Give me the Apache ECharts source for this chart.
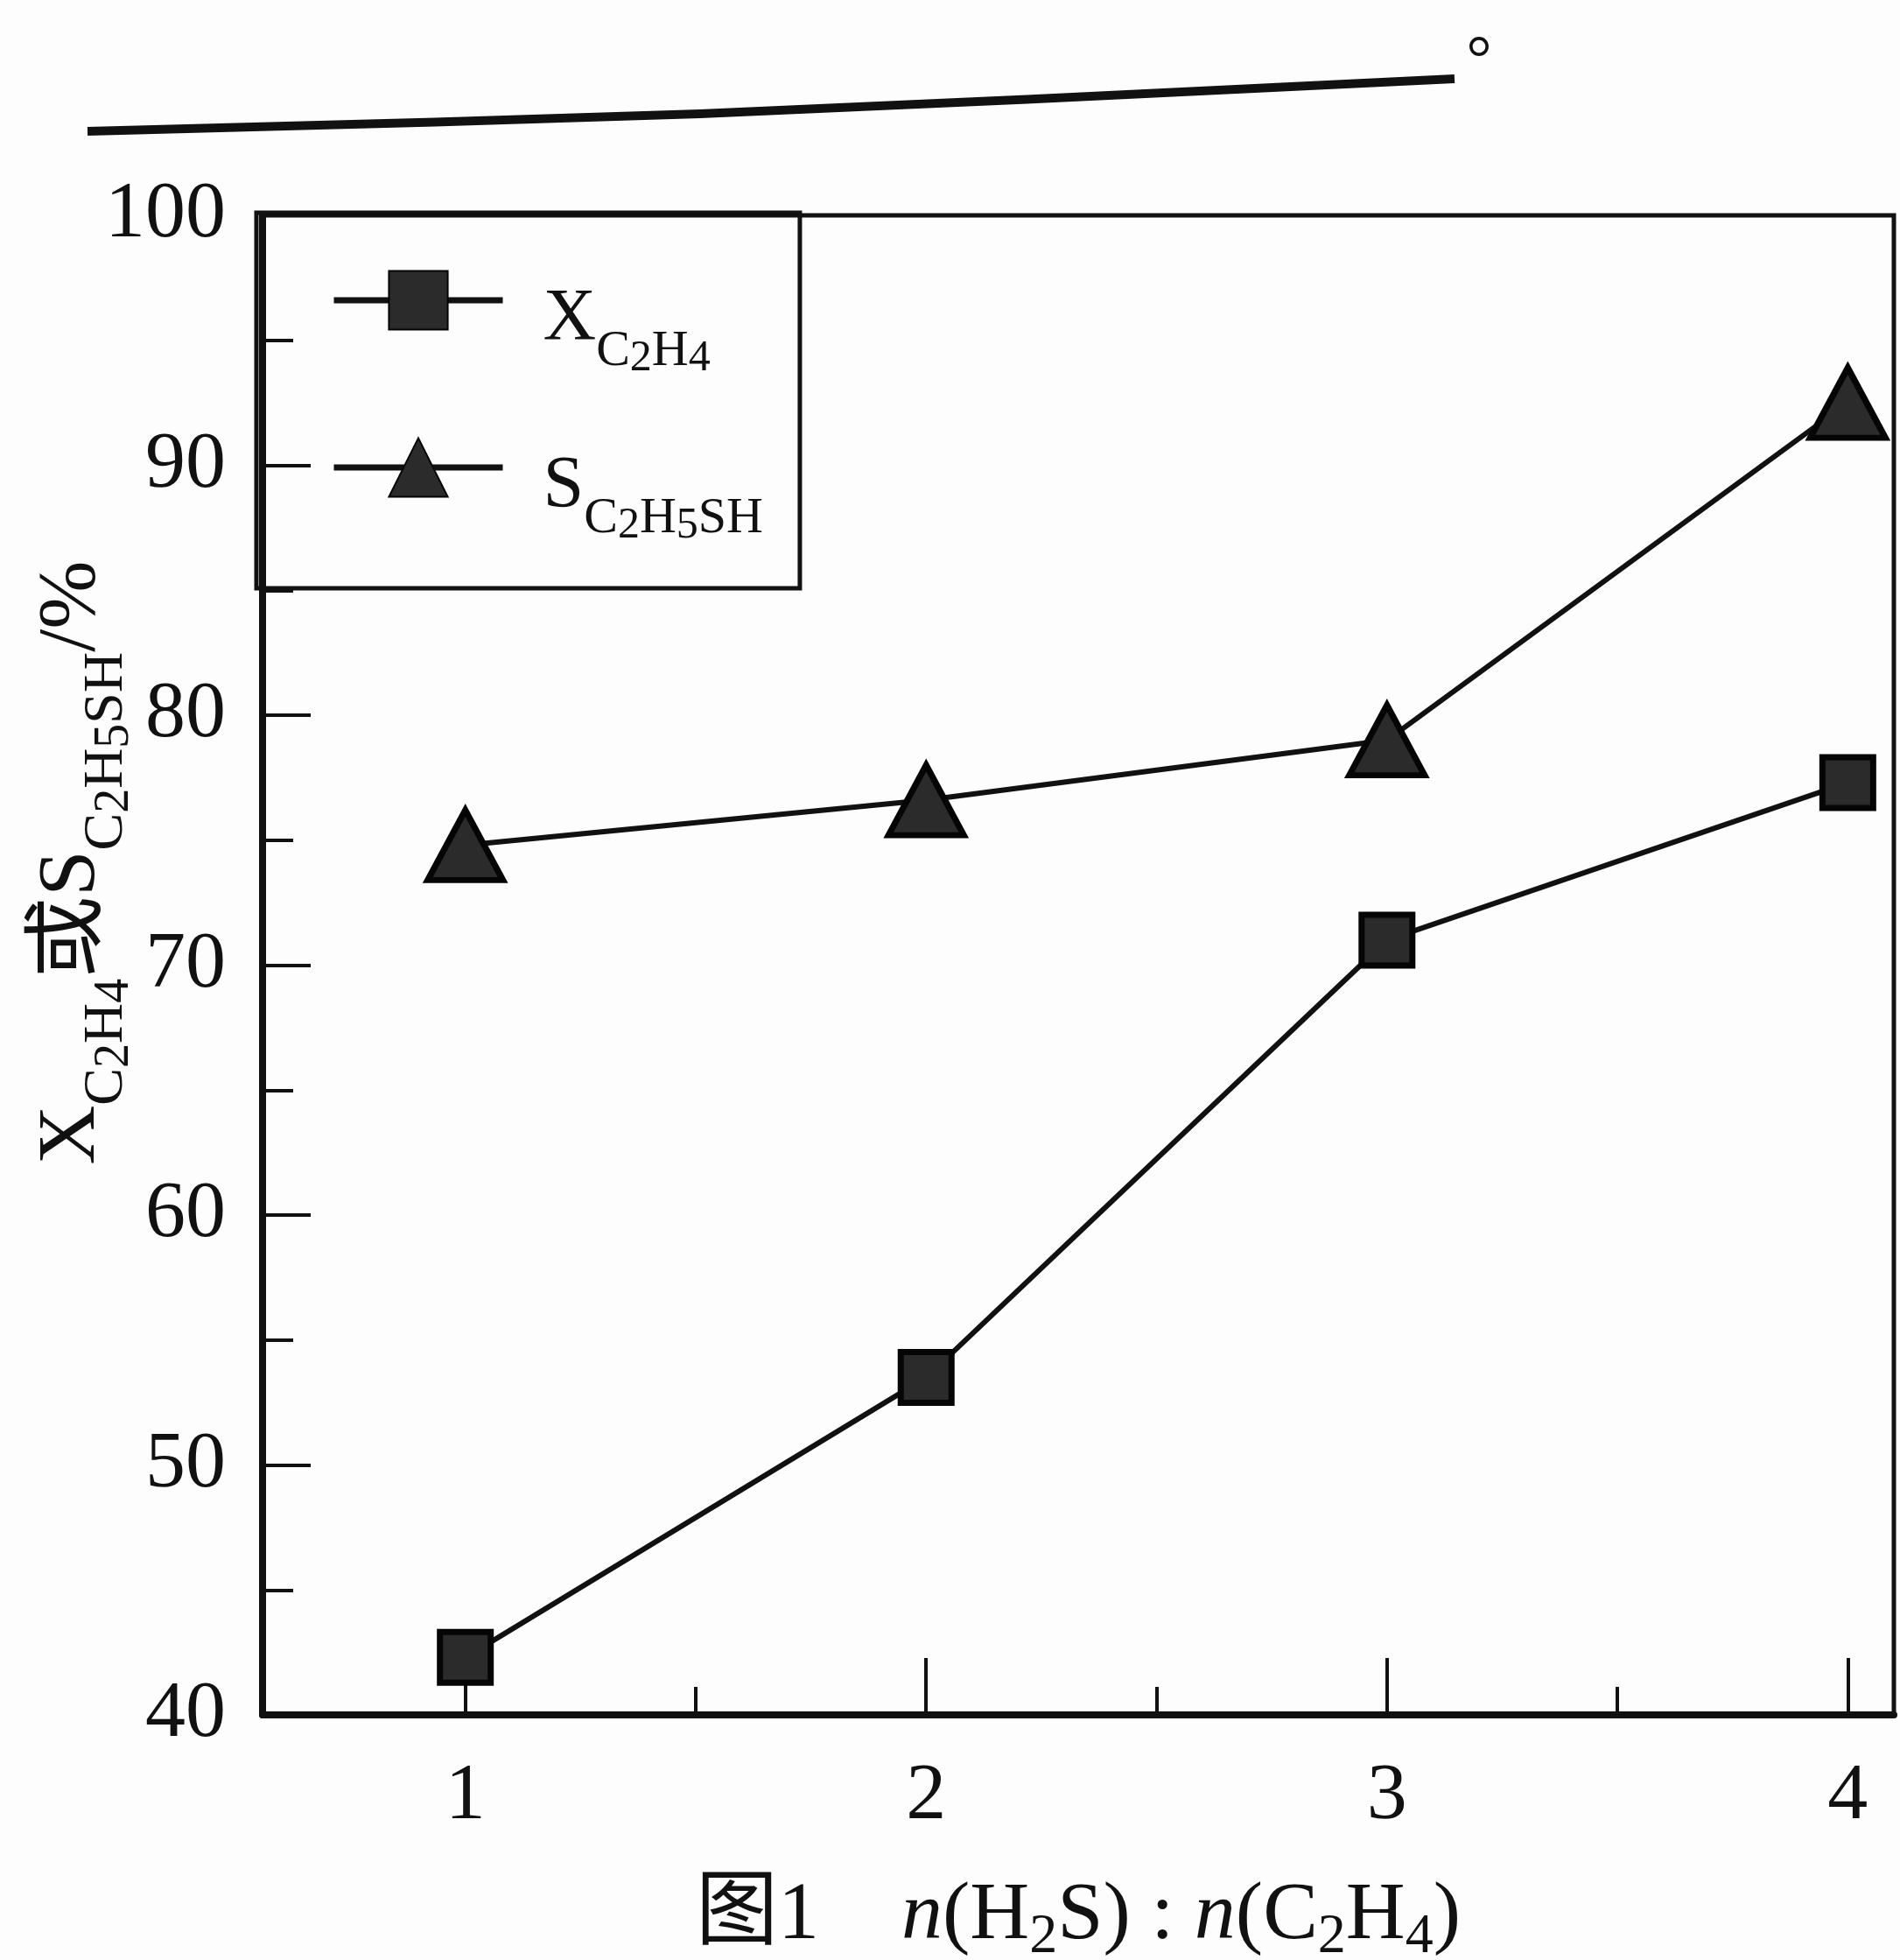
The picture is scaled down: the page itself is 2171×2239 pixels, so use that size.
<!DOCTYPE html>
<html><head><meta charset="utf-8">
<script src="https://cdn.jsdelivr.net/npm/echarts@6/dist/echarts.min.js"></script>
<style>html,body{margin:0;padding:0;background:#fdfdfd}#c{width:2171px;height:2239px}</style>
</head><body><div id="c"></div>
<script>
// ---- data ----
const ratios = [1, 2, 3, 4];
const xConversion = [42.3, 53.5, 71.0, 77.3];     // X_C2H4 (%)
const sSelectivity = [74.8, 76.6, 79.0, 92.5];    // S_C2H5SH (%)
const xMajorTicks = [1, 2, 3, 4];
const xMinorTicks = [1.5, 2.5, 3.5];
const yMin = 40, yMax = 100, yStep = 10;
const seriesNames = ['X', 'S'];

const FF = "'Liberation Serif', 'Noto Sans CJK SC', serif";
const INK = '#111';

// rich text styles: m = main, i = italic main, s = subscript, t = sub-subscript
function makeRich(M, S, T, subDrop, subSubDrop) {
  const pm = Math.round(0.27 * M);
  const cMain = pm + M / 2;
  const base = {fontFamily: FF, color: INK, verticalAlign: 'top'};
  return {
    m: Object.assign({}, base, {fontSize: M, lineHeight: M, padding: [pm, 0, 0, 0]}),
    i: Object.assign({}, base, {fontSize: M, lineHeight: M, padding: [pm, 0, 0, 0], fontStyle: 'italic'}),
    s: Object.assign({}, base, {fontSize: S, lineHeight: S, padding: [Math.round(cMain + subDrop * M - S / 2), 0, 0, 0]}),
    t: Object.assign({}, base, {fontSize: T, lineHeight: T, padding: [Math.round(cMain + subSubDrop * M - T / 2), 0, 0, 0]})
  };
}
const legendRich = makeRich(84, 58, 50, 0.43, 0.52);
const yNameRich = makeRich(94, 64, 56, 0.43, 0.52);
const xNameRich = makeRich(94, 64, 64, 0.25, 0.25);

const chart = echarts.init(document.getElementById('c'));
chart.setOption({
  backgroundColor: '#fdfdfd',
  animation: false,
  grid: {left: 300, right: 7, top: 246, bottom: 280, show: true, borderColor: INK, borderWidth: 5,
         backgroundColor: 'transparent', containLabel: false, outerBoundsMode: 'none'},
  legend: {
    show: true, orient: 'vertical', left: 293, top: 243,
    padding: [58, 42, 46, 85], itemGap: 57, itemWidth: 193, itemHeight: 84,
    borderColor: INK, borderWidth: 5, borderRadius: 0,
    lineStyle: {width: 7},
    data: seriesNames,
    formatter: function (name) {
      return name === 'X' ? '{m|X}{s|C}{t|2}{s|H}{t|4}' : '{m|S}{s|C}{t|2}{s|H}{t|5}{s|SH}';
    },
    textStyle: {rich: legendRich, padding: [0, 0, 0, 41]}
  },
  xAxis: [
    {
      type: 'value', min: 0.56, max: 4.1, position: 'bottom',
      axisLine: {show: true, onZero: false, lineStyle: {color: INK, width: 8}},
      axisTick: {show: true, inside: true, length: 65, customValues: xMajorTicks, lineStyle: {color: INK, width: 4}},
      axisLabel: {show: true, customValues: xMajorTicks, fontSize: 92, fontFamily: FF, color: INK, margin: 48},
      splitLine: {show: false},
      name: '{m|图1}{m|    }{i|n}{m|(H}{s|2}{m|S) : }{i|n}{m|(C}{s|2}{m|H}{s|4}{m|)}',
      nameLocation: 'middle', nameGap: 158, nameMoveOverlap: false,
      nameTextStyle: {rich: xNameRich}
    },
    {
      type: 'value', min: 0.56, max: 4.1, position: 'bottom', gridIndex: 0,
      axisLine: {show: false, onZero: false},
      axisTick: {show: true, inside: true, length: 32, customValues: xMinorTicks, lineStyle: {color: INK, width: 4}},
      axisLabel: {show: false},
      splitLine: {show: false}
    }
  ],
  yAxis: {
    type: 'value', min: yMin, max: yMax, interval: yStep,
    axisLine: {show: true, onZero: false, lineStyle: {color: INK, width: 8}},
    axisTick: {show: true, inside: true, length: 55, lineStyle: {color: INK, width: 4}},
    minorTick: {show: true, splitNumber: 2, length: 35, lineStyle: {color: INK, width: 4}},
    splitLine: {show: false},
    minorSplitLine: {show: false},
    axisLabel: {fontSize: 92, fontFamily: FF, color: INK, margin: 42, showMinLabel: true, showMaxLabel: true},
    name: '{m|X}{s|C}{t|2}{s|H}{t|4}{m|或S}{s|C}{t|2}{s|H}{t|5}{s|SH}{m|/%}',
    nameLocation: 'middle', nameRotate: 90, nameGap: 196, nameMoveOverlap: false,
    nameTextStyle: {rich: yNameRich, padding: [0, 0, 0, 234]}
  },
  graphic: [
    {type: 'polyline', shape: {points: [[100, 150], [800, 130], [1662, 90]], smooth: 0.3}, style: {stroke: INK, lineWidth: 10, fill: null}},
    {type: 'text', left: 1676, top: -4, style: {text: '。', fontSize: 72, fontFamily: "'Noto Sans CJK SC'", fill: INK}}
  ],
  series: [
    {
      name: 'X', type: 'line', xAxisIndex: 0,
      data: ratios.map((r, i) => [r, xConversion[i]]),
      symbol: 'rect', symbolSize: 58,
      lineStyle: {color: INK, width: 6},
      itemStyle: {color: '#2b2b2b', borderColor: '#050505', borderWidth: 7}
    },
    {
      name: 'S', type: 'line', xAxisIndex: 0,
      data: ratios.map((r, i) => [r, sSelectivity[i]]),
      symbol: 'triangle', symbolSize: [86, 80],
      lineStyle: {color: INK, width: 6},
      itemStyle: {color: '#2b2b2b', borderColor: '#050505', borderWidth: 7}
    }
  ]
});
</script>
</body></html>
